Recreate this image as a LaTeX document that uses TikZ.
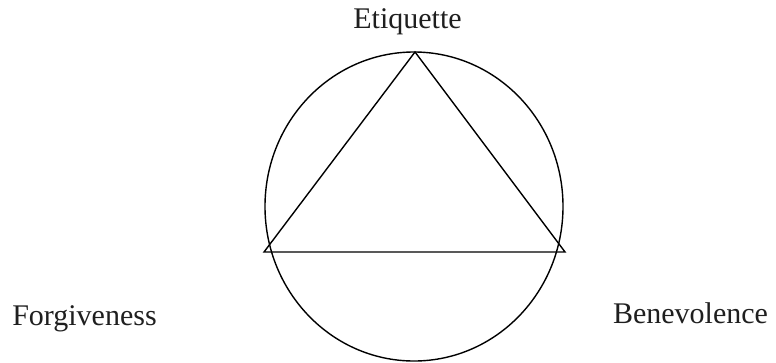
\documentclass[tikz,border=0pt]{standalone}
\usepackage{fontspec}
\setmainfont{Liberation Serif}
\begin{document}
\begin{tikzpicture}[x=1pt,y=-1pt,
  lbl/.style={anchor=base,inner sep=0pt,font=\fontsize{30}{36}\selectfont,text=black!88},
  edge/.style={line width=1.4pt,line join=miter}]
\useasboundingbox (0,0) rectangle (776,362);
\coordinate (T) at (415,52);
\coordinate (L) at (264,252);
\coordinate (R) at (565,252);
\coordinate (C) at (414,206.5);
\draw[edge] (C) ellipse [x radius=149pt, y radius=154.5pt];
\draw[edge] (T) -- (L) -- (R) -- cycle;
\node[lbl] (et) at (407.5,28) {Etiquette};
\node[lbl] (fo) at (84.5,325) {Forgiveness};
\node[lbl] (be) at (690.5,323) {Benevolence};
\end{tikzpicture}
\end{document}
